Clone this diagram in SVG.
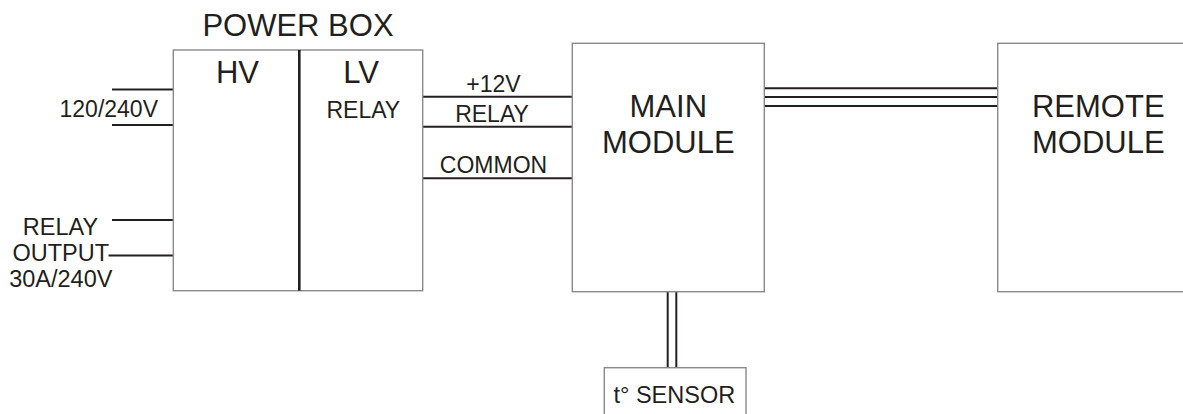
<svg xmlns="http://www.w3.org/2000/svg" width="1183" height="414" viewBox="0 0 1183 414">
<style>
.box{fill:#fff;stroke:#8a8a8a;stroke-width:1.4}
.wire{stroke:#231f20;stroke-width:2;fill:none}
.div{stroke:#231f20;stroke-width:2.6}
text{font-family:"Liberation Sans",Arial,sans-serif;fill:#231f20}
.big{font-size:31px;text-anchor:middle}
.sm{font-size:23px}
.mid{text-anchor:middle}
.end{text-anchor:end}
</style>
<rect width="1183" height="414" fill="#fff"/>
<g id="connectors">
<line class="wire" x1="112" y1="89.5" x2="174" y2="89.5"/>
<line class="wire" x1="112" y1="125" x2="174" y2="125"/>
<line class="wire" x1="112" y1="220" x2="174" y2="220"/>
<line class="wire" x1="108.5" y1="255.5" x2="174" y2="255.5"/>
<line class="wire" x1="422.7" y1="96.7" x2="572.3" y2="96.7"/>
<line class="wire" x1="422.7" y1="126.7" x2="572.3" y2="126.7"/>
<line class="wire" x1="422.7" y1="178.3" x2="572.3" y2="178.3"/>
<line class="wire" x1="764.3" y1="88.3" x2="997.7" y2="88.3"/>
<line class="wire" x1="764.3" y1="97" x2="997.7" y2="97"/>
<line class="wire" x1="764.3" y1="106" x2="997.7" y2="106"/>
<line class="wire" x1="667.7" y1="291.7" x2="667.7" y2="367.7"/>
<line class="wire" x1="676.3" y1="291.7" x2="676.3" y2="367.7"/>
<text class="sm" x="158" y="116.5" text-anchor="end">120/240V</text>
<text class="sm mid" x="60.5" y="235" style="font-size:23.5px">RELAY</text>
<text class="sm mid" x="60.8" y="260.5" style="font-size:23.5px">OUTPUT</text>
<text class="sm mid" x="60.8" y="287" style="font-size:23.5px">30A/240V</text>
<text class="sm mid" x="493.5" y="91.5">+12V</text>
<text class="sm mid" x="492" y="121.5">RELAY</text>
<text class="sm mid" x="493.5" y="173.3">COMMON</text>
</g>
<g id="power-box">
<text class="big" x="298" y="35.7">POWER BOX</text>
<rect class="box" x="173.3" y="50" width="249.4" height="240.7"/>
<line class="div" x1="299.3" y1="50" x2="299.3" y2="290.7"/>
<text class="big" x="237.5" y="82.7">HV</text>
<text class="big" x="361" y="82.7">LV</text>
<text class="sm mid" x="363.3" y="118.3">RELAY</text>
</g>
<g id="main-module">
<rect class="box" x="572.3" y="43.3" width="192" height="248.4"/>
<text class="big" x="668.3" y="117.3">MAIN</text>
<text class="big" x="668.3" y="152.7">MODULE</text>
</g>
<g id="remote-module">
<rect class="box" x="997.7" y="43.3" width="202" height="248.4"/>
<text class="big" x="1098.3" y="117.3">REMOTE</text>
<text class="big" x="1098.3" y="152.7">MODULE</text>
</g>
<g id="sensor">
<rect class="box" x="604.3" y="367.7" width="141.7" height="60"/>
<text class="sm mid" x="674.3" y="403.3" style="font-size:23.5px">t° SENSOR</text>
</g>
</svg>
